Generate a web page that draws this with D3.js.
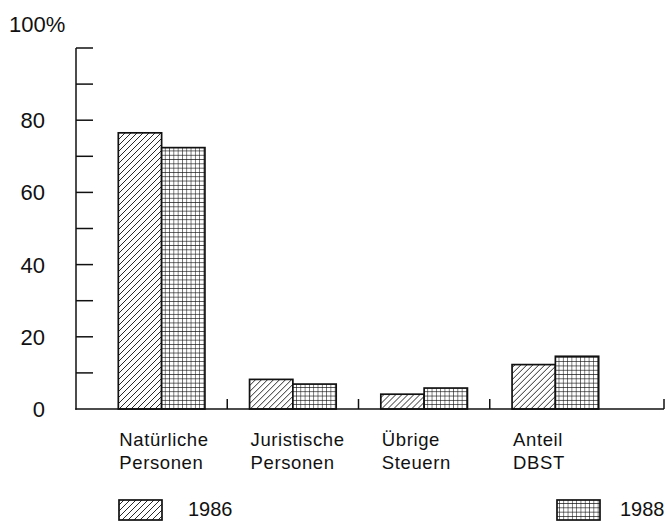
<!DOCTYPE html>
<html>
<head>
<meta charset="utf-8">
<script src="https://cdn.jsdelivr.net/npm/d3@7"></script>
<style>
  body { margin: 0; background: #fff; }
  text { font-family: "Liberation Sans", Arial, sans-serif; fill: #111; }
</style>
</head>
<body>
<svg id="chart" width="667" height="522"></svg>
<script>
// values (percent)
const categories = ['Natürliche Personen', 'Juristische Personen', 'Übrige Steuern', 'Anteil DBST'];
const years = ['1986', '1988'];
const values1986 = [76.5, 8.2, 4.1, 12.3];
const values1988 = [72.4, 6.9, 5.8, 14.6];
const yTicks = [10, 20, 30, 40, 50, 60, 70, 80, 90, 100];
const yLabels = [0, 20, 40, 60, 80];

const svg = d3.select('#chart');

// fill patterns: hatching for 1986, fine grid for 1988
const defs = svg.append('defs');
const hatch = defs.append('pattern')
  .attr('id', 'hatch')
  .attr('patternUnits', 'userSpaceOnUse')
  .attr('width', 6).attr('height', 6);
hatch.append('path')
  .attr('d', 'M0,6 L6,0 M-1,1 L1,-1 M5,7 L7,5')
  .attr('stroke', '#111').attr('stroke-width', 0.9);

const grid = defs.append('pattern')
  .attr('id', 'grid')
  .attr('patternUnits', 'userSpaceOnUse')
  .attr('width', 4.3).attr('height', 4.3);
grid.append('rect').attr('width', 4.3).attr('height', 4.3).attr('fill', '#fff');
grid.append('path')
  .attr('d', 'M0,0 H4.3 M0,0 V4.3')
  .attr('stroke', '#111').attr('stroke-width', 1.1);

const fills = { '1986': 'url(#hatch)', '1988': 'url(#grid)' };

const axisLeft = 76, axisRight = 664;
const y = d3.scaleLinear().domain([0, 100]).range([409, 48]);

const x0 = d3.scaleBand()
  .domain(categories)
  .range([96, 621])
  .padding(0);

const x1 = d3.scaleBand()
  .domain(years)
  .range([x0.bandwidth() * 0.17, x0.bandwidth() * 0.83])
  .padding(0);

const rows = categories.map((c, i) => ({ cat: c, values: [values1986[i], values1988[i]] }));

// bars
const groups = svg.append('g').selectAll('g')
  .data(rows)
  .enter().append('g')
  .attr('transform', d => `translate(${x0(d.cat)},0)`);

groups.selectAll('rect')
  .data(d => years.map((yr, j) => ({ year: yr, value: d.values[j] })))
  .enter().append('rect')
  .attr('x', d => x1(d.year))
  .attr('y', d => y(d.value))
  .attr('width', x1.bandwidth())
  .attr('height', d => y(0) - y(d.value))
  .attr('fill', d => fills[d.year])
  .attr('stroke', '#111')
  .attr('stroke-width', 1.7);

// y axis
const ax = svg.append('g').attr('stroke', '#111').attr('stroke-width', 1.5);
ax.append('line')
  .attr('x1', axisLeft).attr('x2', axisLeft)
  .attr('y1', y(100)).attr('y2', y(0) + 0.75);
ax.selectAll('.ytick')
  .data(yTicks)
  .enter().append('line')
  .attr('x1', axisLeft).attr('x2', axisLeft + 17)
  .attr('y1', d => y(d)).attr('y2', d => y(d));

// x axis
ax.append('line')
  .attr('x1', axisLeft - 0.75).attr('x2', axisRight)
  .attr('y1', y(0)).attr('y2', y(0));
const xTickPos = categories.slice(1).map(c => x0(c)).concat([axisRight]);
ax.selectAll('.xtick')
  .data(xTickPos)
  .enter().append('line')
  .attr('x1', d => d).attr('x2', d => d)
  .attr('y1', y(0)).attr('y2', y(0) - 10);

// y labels
svg.append('g').selectAll('text')
  .data(yLabels)
  .enter().append('text')
  .attr('x', 45)
  .attr('y', d => y(d) + 8)
  .attr('text-anchor', 'end')
  .style('font-size', '22px')
  .text(d => d);

svg.append('text')
  .attr('x', 9).attr('y', 32)
  .style('font-size', '22px')
  .text('100%');

// category labels (two lines, left aligned with the first bar)
const labels = svg.append('g').selectAll('text')
  .data(rows)
  .enter().append('text')
  .attr('x', d => x0(d.cat) + x1(years[0]) + 1)
  .attr('y', 446)
  .style('font-size', '18.5px')
  .style('letter-spacing', '0.6px');
labels.selectAll('tspan')
  .data(d => d.cat.split(' '))
  .enter().append('tspan')
  .attr('x', function () { return d3.select(this.parentNode).attr('x'); })
  .attr('dy', (d, i) => i === 0 ? 0 : 23)
  .text(d => d);

// legend
const legend = [
  { year: '1986', bx: 119, tx: 188 },
  { year: '1988', bx: 557, tx: 620 }
];
const lg = svg.append('g').selectAll('g')
  .data(legend)
  .enter().append('g');
lg.append('rect')
  .attr('x', d => d.bx).attr('y', 500)
  .attr('width', 43).attr('height', 20)
  .attr('fill', d => fills[d.year])
  .attr('stroke', '#111').attr('stroke-width', 1.7);
lg.append('text')
  .attr('x', d => d.tx).attr('y', 516)
  .style('font-size', '20px')
  .text(d => d.year);
</script>
</body>
</html>
